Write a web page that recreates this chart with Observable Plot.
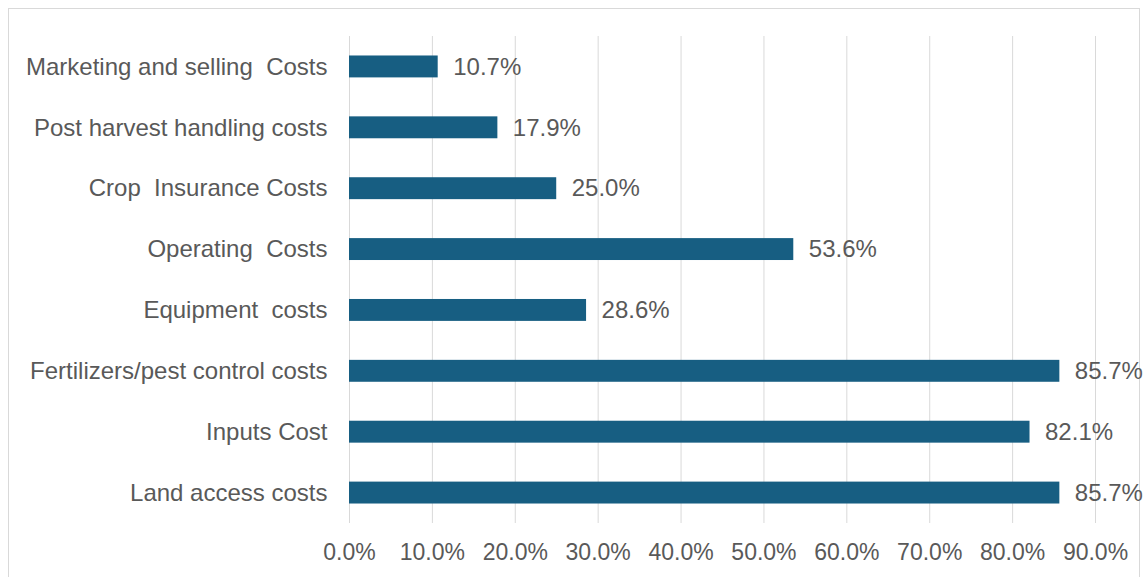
<!DOCTYPE html>
<html>
<head>
<meta charset="utf-8">
<script src="https://cdn.jsdelivr.net/npm/d3@7"></script>
<script src="https://cdn.jsdelivr.net/npm/@observablehq/plot@0.6"></script>
<style>
  html, body { margin: 0; padding: 0; background: #fff; }
  #wrap { position: relative; width: 1143px; height: 577px; overflow: hidden; }
  #border { position: absolute; left: 8px; top: 8px; width: 1132px; height: 575px; border: 1.5px solid #d9d9d9; box-sizing: border-box; }
  #chart { position: absolute; left: 0; top: 0; }
</style>
</head>
<body>
<div id="wrap"><div id="border"></div><div id="chart"></div></div>
<script>
const categories = [
  "Marketing and selling  Costs",
  "Post harvest handling costs",
  "Crop  Insurance Costs",
  "Operating  Costs",
  "Equipment  costs",
  "Fertilizers/pest control costs",
  "Inputs Cost",
  "Land access costs"
];
const values = [10.7, 17.9, 25.0, 53.6, 28.6, 85.7, 82.1, 85.7];
const xTicks = [0, 10, 20, 30, 40, 50, 60, 70, 80, 90];

const data = categories.map((c, i) => ({category: c, value: values[i]}));
const barColor = "#175e82";
const textColor = "#595959";

const chart = Plot.plot({
  width: 1143,
  height: 577,
  marginLeft: 349,
  marginRight: 48,
  marginTop: 36,
  marginBottom: 54,
  style: {fontFamily: "'Liberation Sans', Arial, sans-serif", fontSize: "23px", color: textColor, background: "transparent"},
  x: {domain: [0, 90], ticks: xTicks, tickFormat: d => d.toFixed(1) + "%", label: null},
  y: {domain: categories, label: null, paddingInner: 0.64, paddingOuter: 0.32, round: false},
  marks: [
    Plot.gridX(xTicks, {stroke: "#d9d9d9", strokeOpacity: 1, strokeWidth: 1}),
    Plot.barX(data, {x: "value", y: "category", fill: barColor}),
    Plot.text(data, {x: "value", y: "category", text: d => d.value.toFixed(1) + "%", textAnchor: "start", dx: 15, fill: textColor, fontSize: 24}),
    Plot.axisX({ticks: xTicks, tickFormat: d => d.toFixed(1) + "%", tickSize: 0, tickPadding: 20, fontSize: 23, fill: textColor, label: null}),
    Plot.axisY({tickSize: 0, tickPadding: 22, fontSize: 24, fill: textColor, label: null})
  ]
});
document.getElementById("chart").appendChild(chart);
</script>
</body>
</html>
